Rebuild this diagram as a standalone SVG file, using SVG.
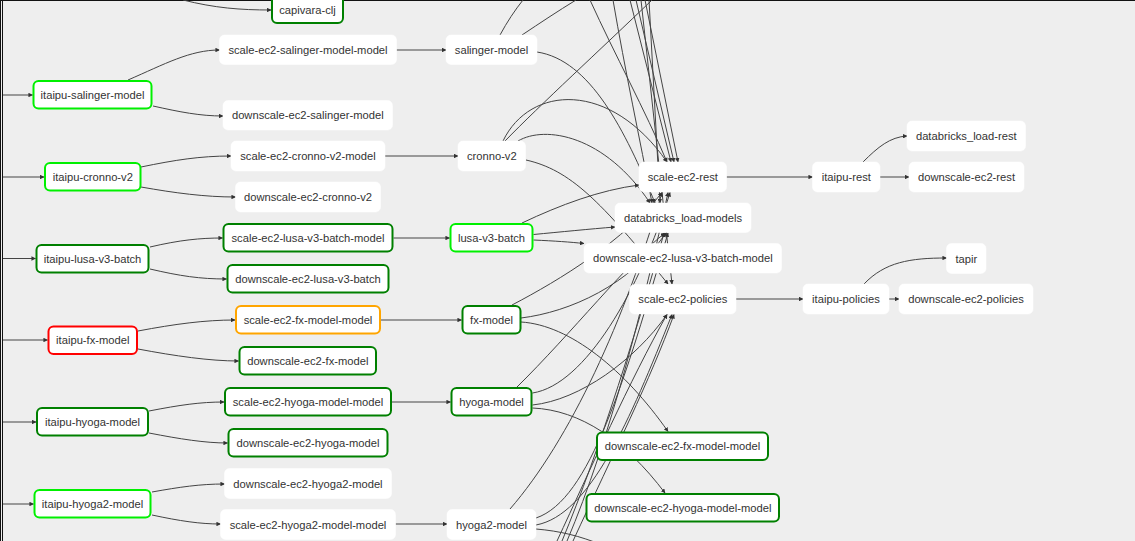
<svg xmlns="http://www.w3.org/2000/svg" width="1135" height="541" viewBox="0 0 1135 541">
<style>
.e{fill:none;stroke:#444;stroke-width:1}
.a{marker-end:url(#arr)}
.n rect{fill:#fff;stroke:#fff;stroke-width:0.5}
.n text{font-family:"Liberation Sans",Arial,sans-serif;font-size:11.2px;fill:#333;text-anchor:middle}
.n.lime rect{stroke:#00f000;stroke-width:2}
.n.green rect{stroke:#008000;stroke-width:2}
.n.red rect{stroke:#f00;stroke-width:2}
.n.orange rect{stroke:#ffa500;stroke-width:2}
</style>
<defs>
<marker id="arr" viewBox="0 0 10 10" refX="9" refY="5" markerWidth="4.5" markerHeight="4.5" orient="auto"><path d="M0,0 L10,5 L0,10 z" fill="#333"/></marker>
</defs>
<rect x="0" y="0" width="1135" height="541" fill="#eeeeee"/>
<line x1="0" y1="0.5" x2="1135" y2="0.5" stroke="#111" stroke-width="1"/>
<line x1="0.5" y1="0" x2="0.5" y2="541" stroke="#111" stroke-width="1"/>
<line x1="2.5" y1="0" x2="2.5" y2="541" stroke="#111" stroke-width="1"/>
<g id="connectors">
<path class="e a" d="M3,95 L32.5,95"/>
<path class="e a" d="M3,177 L44,177"/>
<path class="e a" d="M3,258.5 L35.5,258.5"/>
<path class="e a" d="M3,340 L47.5,340"/>
<path class="e a" d="M3,422 L36,422"/>
<path class="e a" d="M3,504 L33.5,504"/>
<path class="e a" d="M183,0 C215,8 240,10 271,10"/>
<path class="e a" d="M128,80 C165,64 190,50 219.5,50"/>
<path class="e a" d="M153,106 C180,112 200,116 223,116"/>
<path class="e a" d="M141,167 C175,160 200,156 231,156"/>
<path class="e a" d="M141,187 C175,193 205,197 235.5,197"/>
<path class="e a" d="M150,247 C180,240 200,238 222.5,238"/>
<path class="e a" d="M150,269 C180,276 200,279 226.5,279"/>
<path class="e a" d="M138,331 C175,324 205,320 235,320"/>
<path class="e a" d="M138,349 C175,356 210,361 238.5,361"/>
<path class="e a" d="M149,411 C180,405 200,402 224,402"/>
<path class="e a" d="M149,433 C180,439 205,443 227.5,443"/>
<path class="e a" d="M152,492 C180,487 200,484 224.5,484"/>
<path class="e a" d="M152,515 C180,521 200,524 220.5,524"/>
<path class="e a" d="M396.5,50 L446,50"/>
<path class="e a" d="M385,156 L458,156"/>
<path class="e a" d="M393.5,238 L449.5,238"/>
<path class="e a" d="M381,320 L461.5,320"/>
<path class="e a" d="M392,402 L450.5,402"/>
<path class="e a" d="M395.5,524 L447,524"/>
<path class="e" d="M500,35 C507,22 515,10 523,0"/>
<path class="e" d="M522,35 C540,23 558,11 576,0"/>
<path class="e a" d="M537,52 C590,60 625,130 655,203"/>
<path class="e" d="M505,141 C540,105 600,50 652,0"/>
<path class="e a" d="M503,141 C530,85 610,80 667,162"/>
<path class="e a" d="M518,141 C545,125 605,135 650,203"/>
<path class="e a" d="M526,160 C570,170 600,200 668,284"/>
<path class="e a" d="M590,0 C615,55 645,110 667,162"/>
<path class="e a" d="M613,0 C625,70 640,140 652,203"/>
<path class="e a" d="M630,0 L671,162"/>
<path class="e a" d="M636,0 L674,162"/>
<path class="e a" d="M641,0 L672,284"/>
<path class="e a" d="M645,0 L678,162"/>
<path class="e a" d="M649,0 L660,203"/>
<path class="e a" d="M522,223 C560,205 600,190 639,185"/>
<path class="e a" d="M533.5,234.5 C560,232 590,229 615,227"/>
<path class="e a" d="M533.5,240 C555,241 570,242 584,243.5"/>
<path class="e a" d="M512,305 C560,280 625,240 662,192.5"/>
<path class="e a" d="M521,318 C570,312 630,285 666,233"/>
<path class="e a" d="M521,322 C570,325 625,370 668,431.5"/>
<path class="e a" d="M517,387 C570,335 630,260 665,233"/>
<path class="e a" d="M532.5,393 C585,385 640,290 670,192.5"/>
<path class="e a" d="M532.5,405 C580,400 635,360 667,314.5"/>
<path class="e a" d="M532.5,408 C580,410 625,440 665,493"/>
<path class="e a" d="M510,509 C570,440 625,320 662,192.5"/>
<path class="e a" d="M536,518 C590,500 625,380 668,233"/>
<path class="e a" d="M536,525 C590,515 630,420 672,314.5"/>
<path class="e" d="M536,529 C560,531 580,536 602,545"/>
<path class="e a" d="M557,541 C590,470 630,380 667,314.5"/>
<path class="e a" d="M562,541 C600,450 640,320 664,233"/>
<path class="e a" d="M567,541 C610,440 645,300 668,192.5"/>
<path class="e a" d="M573,541 C615,450 650,380 674,314.5"/>
<path class="e a" d="M726.5,177 L812.5,177"/>
<path class="e a" d="M736,299 L803,299"/>
<path class="e a" d="M863,162 C878,147 890,137 907,136"/>
<path class="e a" d="M880,177 L909,177"/>
<path class="e a" d="M864,284 C885,262 910,258 946.5,258"/>
<path class="e a" d="M889,299 L899,299"/>
</g>
<g id="capivara-clj" class="n green"><rect x="272" y="-5" width="71" height="28" rx="5"/><text x="307.5" y="14">capivara-clj</text></g>
<g id="itaipu-salinger-model" class="n lime"><rect x="33.5" y="81" width="118" height="27.5" rx="5"/><text x="92.5" y="98.8">itaipu-salinger-model</text></g>
<g id="scale-ec2-salinger-model-model" class="n"><rect x="219.5" y="35" width="177" height="29.5" rx="5"/><text x="308" y="53.8">scale-ec2-salinger-model-model</text></g>
<g id="downscale-ec2-salinger-model" class="n"><rect x="223" y="100.5" width="169.5" height="29.5" rx="5"/><text x="307.8" y="119.3">downscale-ec2-salinger-model</text></g>
<g id="salinger-model" class="n"><rect x="446" y="35" width="91" height="29.5" rx="5"/><text x="491.5" y="53.8">salinger-model</text></g>
<g id="itaipu-cronno-v2" class="n lime"><rect x="45" y="163" width="95.5" height="27.5" rx="5"/><text x="92.8" y="180.8">itaipu-cronno-v2</text></g>
<g id="scale-ec2-cronno-v2-model" class="n"><rect x="231" y="141" width="154" height="30" rx="5"/><text x="308" y="160">scale-ec2-cronno-v2-model</text></g>
<g id="downscale-ec2-cronno-v2" class="n"><rect x="235.5" y="182" width="145" height="30" rx="5"/><text x="308" y="201">downscale-ec2-cronno-v2</text></g>
<g id="cronno-v2" class="n"><rect x="458" y="141" width="67.5" height="30" rx="5"/><text x="491.8" y="160">cronno-v2</text></g>
<g id="itaipu-lusa-v3-batch" class="n green"><rect x="36.5" y="245" width="112" height="27.5" rx="5"/><text x="92.5" y="262.8">itaipu-lusa-v3-batch</text></g>
<g id="scale-ec2-lusa-v3-batch-model" class="n green"><rect x="223.5" y="224" width="169" height="27.5" rx="5"/><text x="308" y="241.8">scale-ec2-lusa-v3-batch-model</text></g>
<g id="downscale-ec2-lusa-v3-batch" class="n green"><rect x="227.5" y="265" width="161" height="27.5" rx="5"/><text x="308" y="282.8">downscale-ec2-lusa-v3-batch</text></g>
<g id="lusa-v3-batch" class="n lime"><rect x="450.5" y="224" width="82" height="27.5" rx="5"/><text x="491.5" y="241.8">lusa-v3-batch</text></g>
<g id="itaipu-fx-model" class="n red"><rect x="48.5" y="326.5" width="88.5" height="27.5" rx="5"/><text x="92.8" y="344.3">itaipu-fx-model</text></g>
<g id="scale-ec2-fx-model-model" class="n orange"><rect x="236" y="306" width="144" height="27.5" rx="5"/><text x="308" y="323.8">scale-ec2-fx-model-model</text></g>
<g id="downscale-ec2-fx-model" class="n green"><rect x="239.5" y="347" width="136.5" height="27.5" rx="5"/><text x="307.8" y="364.8">downscale-ec2-fx-model</text></g>
<g id="fx-model" class="n green"><rect x="462.5" y="306" width="58" height="27.5" rx="5"/><text x="491.5" y="323.8">fx-model</text></g>
<g id="itaipu-hyoga-model" class="n green"><rect x="37" y="408" width="111" height="27.5" rx="5"/><text x="92.5" y="425.8">itaipu-hyoga-model</text></g>
<g id="scale-ec2-hyoga-model-model" class="n green"><rect x="225" y="388" width="166" height="27.5" rx="5"/><text x="308" y="405.8">scale-ec2-hyoga-model-model</text></g>
<g id="downscale-ec2-hyoga-model" class="n green"><rect x="228.5" y="429" width="159" height="27.5" rx="5"/><text x="308" y="446.8">downscale-ec2-hyoga-model</text></g>
<g id="hyoga-model" class="n green"><rect x="451.5" y="388" width="80" height="27.5" rx="5"/><text x="491.5" y="405.8">hyoga-model</text></g>
<g id="itaipu-hyoga2-model" class="n lime"><rect x="34.5" y="490" width="116" height="27.5" rx="5"/><text x="92.5" y="507.8">itaipu-hyoga2-model</text></g>
<g id="downscale-ec2-hyoga2-model" class="n"><rect x="224.5" y="468.5" width="167" height="30" rx="5"/><text x="308" y="487.5">downscale-ec2-hyoga2-model</text></g>
<g id="scale-ec2-hyoga2-model-model" class="n"><rect x="220.5" y="509.5" width="175" height="30" rx="5"/><text x="308" y="528.5">scale-ec2-hyoga2-model-model</text></g>
<g id="hyoga2-model" class="n"><rect x="447" y="509.5" width="89" height="30" rx="5"/><text x="491.5" y="528.5">hyoga2-model</text></g>
<g id="scale-ec2-rest" class="n"><rect x="639" y="162" width="87.5" height="30" rx="5"/><text x="682.8" y="181">scale-ec2-rest</text></g>
<g id="databricks_load-models" class="n"><rect x="615" y="203" width="136" height="29.5" rx="5"/><text x="683" y="221.8">databricks_load-models</text></g>
<g id="downscale-ec2-lusa-v3-batch-model" class="n"><rect x="584" y="243.5" width="197.5" height="29.5" rx="5"/><text x="682.8" y="262.3">downscale-ec2-lusa-v3-batch-model</text></g>
<g id="scale-ec2-policies" class="n"><rect x="629.5" y="284.5" width="106.5" height="29.5" rx="5"/><text x="682.8" y="303.3">scale-ec2-policies</text></g>
<g id="downscale-ec2-fx-model-model" class="n green"><rect x="597" y="432.5" width="171" height="27.5" rx="5"/><text x="682.5" y="450.3">downscale-ec2-fx-model-model</text></g>
<g id="downscale-ec2-hyoga-model-model" class="n green"><rect x="586.5" y="494" width="192.5" height="27.5" rx="5"/><text x="682.8" y="511.8">downscale-ec2-hyoga-model-model</text></g>
<g id="itaipu-rest" class="n"><rect x="812.5" y="162" width="67.5" height="30" rx="5"/><text x="846.3" y="181">itaipu-rest</text></g>
<g id="databricks_load-rest" class="n"><rect x="907" y="121" width="118.5" height="30" rx="5"/><text x="966.3" y="140">databricks_load-rest</text></g>
<g id="downscale-ec2-rest" class="n"><rect x="909" y="162" width="115" height="30" rx="5"/><text x="966.5" y="181">downscale-ec2-rest</text></g>
<g id="tapir" class="n"><rect x="946.5" y="243.5" width="39.5" height="30" rx="5"/><text x="966.3" y="262.5">tapir</text></g>
<g id="itaipu-policies" class="n"><rect x="803" y="284" width="86" height="30" rx="5"/><text x="846" y="303">itaipu-policies</text></g>
<g id="downscale-ec2-policies" class="n"><rect x="899" y="284" width="134" height="30" rx="5"/><text x="966" y="303">downscale-ec2-policies</text></g>
</svg>
